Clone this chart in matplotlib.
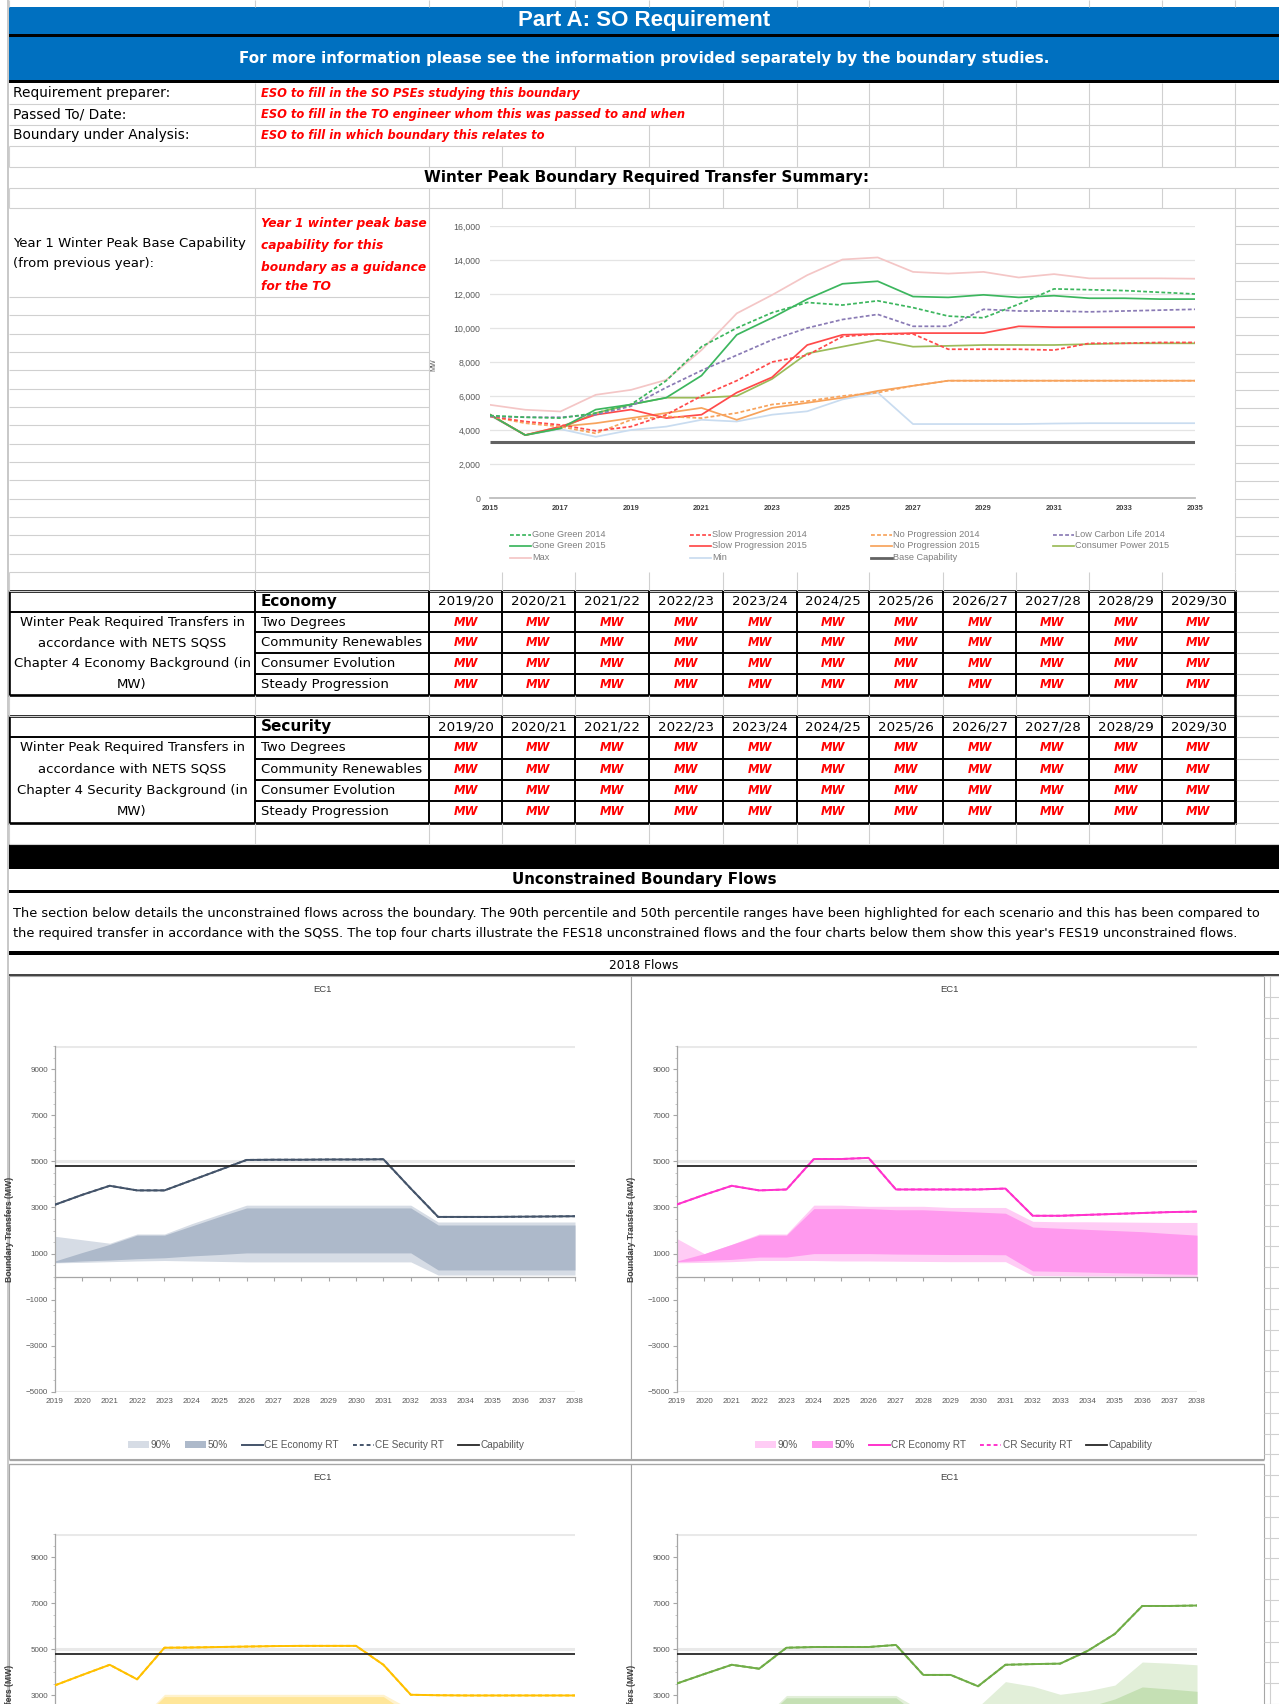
"""Boundary requirement sheet (Part A: SO Requirement) rebuilt as one matplotlib figure.

Spreadsheet cells are drawn on a full-figure pixel axes; the winter peak summary chart
and the four EC1 unconstrained-flow charts are real axes placed on top of it.

    python3 plot.py   ->  out.png
"""
import matplotlib
matplotlib.use("Agg")
import matplotlib.pyplot as plt
from matplotlib.lines import Line2D
from matplotlib.patches import Patch, Rectangle
from matplotlib.ticker import FixedLocator, MultipleLocator, FuncFormatter

W, H = 1279, 1704
plt.rcParams["font.family"] = ["Liberation Sans", "DejaVu Sans"]
SHEET_FONT = ["DejaVu Sans"]

BLUE, RED, GRID, INK, MUTED = "#0070c0", "#ff0000", "#d0d0d0", "#000000", "#595959"

# ---------------- winter peak boundary required transfer summary (MW) ----------------
WP_YEARS = list(range(2015, 2036))
gone_green_2014 = [4850, 4750, 4700, 5000, 5500, 6900, 8900, 10000, 10900, 11500, 11350,
                   11600, 11200, 10700, 10600, 11400, 12300, 12250, 12200, 12100, 12000]
slow_prog_2014 = [4800, 4500, 4300, 3950, 4200, 4900, 6000, 6900, 8000, 8400, 9500,
                  9650, 9650, 8750, 8750, 8750, 8700, 9100, 9100, 9150, 9150]
no_prog_2014 = [4800, 4400, 4200, 3800, 4600, 4800, 4700, 5000, 5500, 5700, 6000,
                6200, 6600, 6900, 6900, 6900, 6900, 6900, 6900, 6900, 6900]
low_carbon_2014 = [4800, 4750, 4750, 4900, 5400, 6500, 7500, 8400, 9300, 10000, 10500,
                   10800, 10100, 10100, 11100, 11000, 11000, 10950, 11000, 11050, 11100]
gone_green_2015 = [4900, 3700, 4100, 5200, 5500, 5900, 7200, 9600, 10600, 11700, 12600,
                   12750, 11850, 11800, 11950, 11800, 11900, 11750, 11750, 11700, 11700]
slow_prog_2015 = [4900, 3700, 4200, 4900, 5200, 4700, 4900, 6200, 7100, 9000, 9600,
                  9650, 9700, 9700, 9700, 10100, 10050, 10050, 10050, 10050, 10050]
no_prog_2015 = [4900, 3700, 4200, 4400, 4700, 5000, 5300, 4600, 5300, 5600, 5900,
                6300, 6600, 6900, 6900, 6900, 6900, 6900, 6900, 6900, 6900]
consumer_power_2015 = [4900, 3700, 4100, 5000, 5500, 5900, 5900, 6000, 7000, 8500, 8900,
                       9300, 8900, 8950, 9000, 9000, 9000, 9050, 9100, 9100, 9100]
max_req = [5480, 5190, 5090, 6070, 6360, 6950, 8700, 10860, 11940, 13110, 14030,
           14150, 13300, 13200, 13300, 12970, 13170, 12920, 12920, 12920, 12900]
min_req = [4850, 3700, 4050, 3600, 4000, 4200, 4600, 4500, 4900, 5100, 5800,
           6200, 4350, 4350, 4350, 4350, 4380, 4400, 4400, 4400, 4400]
BASE_CAPABILITY = 3300

# ---------------- required transfer tables ----------------
TABLE_YEARS = ["2019/20", "2020/21", "2021/22", "2022/23", "2023/24", "2024/25",
               "2025/26", "2026/27", "2027/28", "2028/29", "2029/30"]
SCENARIOS = ["Two Degrees", "Community Renewables", "Consumer Evolution", "Steady Progression"]
CELL = "MW"

# ---------------- EC1 unconstrained flows, 2018 FES (MW) ----------------
EC_YEARS = list(range(2019, 2039))
CAPABILITY = 4800
EC_YTICKS = [-5000, -3000, -1000, 1000, 3000, 5000, 7000, 9000]

ce_economy = [3120, 3550, 3940, 3740, 3740, 4180, 4620, 5060, 5070, 5070,
              5080, 5080, 5090, 3820, 2590, 2590, 2590, 2600, 2610, 2620]
ce_p90_lo = [600, 620, 650, 680, 700, 680, 660, 640, 640, 640, 640, 640, 640, 640, 70, 70, 70, 70, 70, 70]
ce_p90_hi = [1750, 1600, 1450, 1850, 1850, 2300, 2700, 3100, 3100, 3100,
             3100, 3100, 3100, 3100, 2370, 2370, 2370, 2370, 2370, 2370]
ce_p50_lo = [620, 680, 720, 780, 820, 900, 960, 1030, 1030, 1030,
             1030, 1030, 1030, 1030, 290, 290, 290, 290, 290, 290]
ce_p50_hi = [680, 1050, 1400, 1800, 1800, 2200, 2600, 2980, 2980, 2980,
             2980, 2980, 2980, 2980, 2240, 2240, 2240, 2240, 2240, 2240]

cr_economy = [3130, 3550, 3940, 3740, 3780, 5100, 5100, 5150, 3780, 3780,
              3780, 3780, 3820, 2640, 2640, 2680, 2720, 2760, 2800, 2820]
cr_p90_lo = [600, 620, 650, 700, 700, 700, 680, 680, 670, 660, 650, 650, 650, 50, 40, 30, 30, 20, 10, 0]
cr_p90_hi = [1650, 1000, 1400, 1850, 1850, 3100, 3100, 3050, 3050, 3050,
             3000, 3000, 3000, 2400, 2380, 2380, 2370, 2360, 2350, 2350]
cr_p50_lo = [650, 700, 750, 850, 850, 1000, 1000, 1000, 980, 970,
             960, 960, 950, 250, 230, 200, 170, 150, 120, 100]
cr_p50_hi = [680, 1000, 1400, 1800, 1800, 2950, 2950, 2950, 2900, 2900,
             2850, 2800, 2750, 2150, 2100, 2050, 2000, 1950, 1870, 1800]

sp_economy = [3440, 3890, 4330, 3700, 5070, 5080, 5100, 5120, 5140, 5150,
              5150, 5150, 4330, 3030, 3010, 3000, 3000, 3000, 3000, 3000]
sp_p90_lo = [600, 620, 650, 700, 700, 700, 700, 700, 700, 700, 700, 700, 700, 50, 40, 30, 20, 10, 0, 0]
sp_p90_hi = [1700, 1500, 1400, 1850, 3050, 3050, 3050, 3050, 3050, 3050,
             3050, 3050, 3050, 2400, 2400, 2400, 2400, 2400, 2400, 2400]
sp_p50_lo = [650, 700, 750, 850, 900, 950, 950, 950, 950, 950,
             950, 950, 950, 250, 230, 200, 170, 150, 120, 100]
sp_p50_hi = [680, 1050, 1400, 1800, 2950, 2950, 2950, 2950, 2950, 2950,
             2950, 2950, 2950, 2150, 2100, 2050, 2000, 1950, 1900, 1850]

td_economy = [3520, 3930, 4330, 4160, 5070, 5100, 5100, 5100, 5190, 3890,
              3890, 3400, 4330, 4360, 4380, 4930, 5670, 6880, 6880, 6900]
td_p90_lo = [600, 620, 650, 700, 700, 700, 700, 700, 700, 400, 400, 300, 300, 300, 300, 300, 300, 400, 400, 400]
td_p90_hi = [1700, 1500, 1400, 1850, 3000, 3000, 3000, 3000, 3000, 2300,
             2300, 2500, 3600, 3400, 3050, 3200, 3450, 4450, 4400, 4330]
td_p50_lo = [650, 700, 750, 850, 900, 950, 950, 950, 950, 700, 700, 600, 600, 600, 600, 600, 700, 800, 800, 800]
td_p50_hi = [680, 1050, 1400, 1800, 2900, 2900, 2900, 2900, 2900, 2000,
             2000, 2100, 2500, 2400, 2300, 2500, 2850, 3370, 3280, 3180]

# sheet column edges (px)
COLS = [9, 255, 429, 502, 575, 649, 723, 797, 869, 943, 1016, 1089, 1162, 1235]

fig = plt.figure(figsize=(W / 100, H / 100), dpi=100, facecolor="white")
bg = fig.add_axes([0, 0, 1, 1])
bg.set_xlim(0, W); bg.set_ylim(H, 0); bg.axis("off")


def px_axes(x0, y0, x1, y1):
    return fig.add_axes([x0 / W, 1 - y1 / H, (x1 - x0) / W, (y1 - y0) / H])


def hl(y, x0=9, x1=W, c=GRID, lw=0.8):
    bg.plot([x0, x1], [y, y], color=c, lw=lw, solid_capstyle="butt")


def vl(x, y0, y1, c=GRID, lw=0.8):
    bg.plot([x, x], [y0, y1], color=c, lw=lw, solid_capstyle="butt")


def rect(x0, y0, x1, y1, fc, ec="none", lw=0):
    bg.add_patch(Rectangle((x0, y0), x1 - x0, y1 - y0, fc=fc, ec=ec, lw=lw))


def txt(x, y, s, size=10, ha="left", family=SHEET_FONT, **kw):
    bg.text(x, y, s, fontsize=size, ha=ha, va="center", family=family, **kw)


def grid_row(y0, y1, cols=COLS):
    hl(y1)
    for x in cols:
        vl(x, y0, y1)


# ---------------- header ----------------
vl(8, 0, H, "#bfbfbf", 1.2)
for x in COLS:
    vl(x, 0, 7)
rect(9, 7, W, 34, BLUE)
rect(9, 34, W, 36.5, INK)
rect(9, 36.5, W, 80, BLUE)
rect(9, 80, W, 83, INK)
txt(644, 20.5, "Part A: SO Requirement", 16, "center", family=["Liberation Sans"],
    color="white", fontweight="bold")
txt(644, 58, "For more information please see the information provided separately by the boundary studies.",
    10.9, "center", color="white", fontweight="bold")

grid_row(83, 104, [255] + COLS[6:])
grid_row(104, 125, [255] + COLS[6:])
grid_row(125, 146, [255] + COLS[5:])
grid_row(146, 167)
grid_row(167, 188, [])
grid_row(188, 208)
info = [("Requirement preparer:", "ESO to fill in the SO PSEs studying this boundary"),
        ("Passed To/ Date:", "ESO to fill in the TO engineer whom this was passed to and when"),
        ("Boundary under Analysis:", "ESO to fill in which boundary this relates to")]
for i, (lab, val) in enumerate(info):
    yc = 93.5 + 21 * i
    txt(13, yc, lab, 9.9)
    txt(261, yc, val, 8.3, color=RED, fontweight="bold", style="italic")
txt(647, 177.5, "Winter Peak Boundary Required Transfer Summary:", 11, "center", fontweight="bold")

# year 1 block and rows beside the summary chart
vl(255, 208, 572); vl(429, 208, 572); vl(1235, 208, 572)
hl(297, 9, 429)
for k in range(1, 16):
    hl(297 + k * 18.33, 9, 429)
for k in range(1, 20):
    hl(208 + k * 18.2, 1235, W)
txt(13, 243, "Year 1 Winter Peak Base Capability", 9.5)
txt(13, 263, "(from previous year):", 9.5)
for yc, s in zip((224, 246, 267, 287),
                 ("Year 1 winter peak base", "capability for this", "boundary as a guidance", "for the TO")):
    txt(261, yc, s, 8.8, color=RED, fontweight="bold", style="italic")
rect(430, 208, 1234.5, 572, "white")
grid_row(572, 591)

# ---------------- winter peak summary chart ----------------
ax = px_axes(490, 226, 1195, 498)
ax.set_xlim(2015, 2035); ax.set_ylim(0, 16000)
ax.patch.set_visible(False)
DASH = (0, (2.2, 1.3))
wp_series = [
    ("Max", max_req, "#f4c6c6", "-"),
    ("Min", min_req, "#c9dcf0", "-"),
    ("No Progression 2015", no_prog_2015, "#f7a35c", "-"),
    ("Consumer Power 2015", consumer_power_2015, "#9bbb59", "-"),
    ("Slow Progression 2015", slow_prog_2015, "#ff4a4a", "-"),
    ("Gone Green 2015", gone_green_2015, "#3cb65e", "-"),
    ("No Progression 2014", no_prog_2014, "#f7a35c", DASH),
    ("Slow Progression 2014", slow_prog_2014, "#ff4a4a", DASH),
    ("Low Carbon Life 2014", low_carbon_2014, "#8a7bb5", DASH),
    ("Gone Green 2014", gone_green_2014, "#3cb65e", DASH),
]
styles = {}
for name, vals, c, ls in wp_series:
    ax.plot(WP_YEARS, vals, color=c, ls=ls, lw=1.25, zorder=3)
    styles[name] = (c, ls, 1.25)
ax.hlines(BASE_CAPABILITY, WP_YEARS[0], WP_YEARS[-1], color="#626262", lw=2.2, zorder=2)
styles["Base Capability"] = ("#626262", "-", 2.0)
ax.yaxis.set_major_locator(MultipleLocator(2000))
ax.yaxis.set_major_formatter(FuncFormatter(lambda v, _: f"{int(v):,}"))
ax.set_xticks(WP_YEARS[::2])
ax.grid(axis="y", color="#e4e4e4", lw=0.9)
ax.set_axisbelow(True)
for sp in ("top", "right", "left"):
    ax.spines[sp].set_visible(False)
ax.spines["bottom"].set_color("#bdbdbd"); ax.spines["bottom"].set_linewidth(1.3)
ax.tick_params(axis="y", length=0, labelsize=6.3, colors=MUTED, pad=7)
ax.tick_params(axis="x", length=0, labelsize=5.4, colors="#404040", pad=5)
for lab in ax.get_xticklabels():
    lab.set_fontweight("bold")
ax.set_ylabel("MW", fontsize=5, color=MUTED)
ax.yaxis.set_label_coords(-0.074, 0.49)

legend_order = [["Gone Green 2014", "Slow Progression 2014", "No Progression 2014", "Low Carbon Life 2014"],
                ["Gone Green 2015", "Slow Progression 2015", "No Progression 2015", "Consumer Power 2015"],
                ["Max", "Min", "Base Capability"]]
for r, row in enumerate(legend_order):
    for c_i, name in enumerate(row):
        x, y = (510, 690, 871, 1053)[c_i], (534.7, 546, 557.7)[r]
        c, ls, lw = styles[name]
        bg.add_line(Line2D([x, x + 21], [y, y], color=c, ls=ls, lw=lw))
        txt(x + 22, y, name, 6.6, family=["Liberation Sans"], color="#7f7f7f")


# ---------------- required transfer tables ----------------
def req_table(top, heading, background, rh):
    ys = [top + i * rh for i in range(6)]
    for y in ys[1:5]:
        hl(y, 255, 1235, INK, 1.4)
    hl(ys[1], 9, 255, INK, 1.4)
    for x in COLS[1:13]:
        vl(x, top, ys[5], INK, 1.4)
    bg.add_patch(Rectangle((9, top), 1235 - 9, 5 * rh, fill=False, ec=INK, lw=1.9))
    for y in ys:
        hl(y, 1235, W)
    txt(261, ys[0] + rh / 2, heading, 11, fontweight="bold")
    for j, yr in enumerate(TABLE_YEARS):
        xc = (COLS[j + 2] + COLS[j + 3]) / 2
        txt(xc, ys[0] + rh / 2, yr, 9.6, "center")
        for i in range(4):
            txt(xc, ys[i + 1] + rh / 2, CELL, 8.4, "center", color=RED, fontweight="bold", style="italic")
    left = ["Winter Peak Required Transfers in", "accordance with NETS SQSS",
            f"Chapter 4 {background} Background (in", "MW)"]
    for i in range(4):
        txt(261, ys[i + 1] + rh / 2, SCENARIOS[i], 9.5)
        txt(132, ys[i + 1] + rh / 2, left[i], 9.5, "center")


req_table(591, "Economy", "Economy", 20.7)
grid_row(694.5, 716)
req_table(716, "Security", "Security", 21.3)
vl(1235, 591, 822.5, INK, 1.9)
grid_row(822.5, 844)

# ---------------- unconstrained boundary flows header ----------------
rect(9, 844, W, 869, INK)
txt(644, 879.5, "Unconstrained Boundary Flows", 10.9, "center", fontweight="bold")
rect(9, 889.5, W, 892.5, INK)
txt(13, 914, "The section below details the unconstrained flows across the boundary. The 90th percentile and "
    "50th percentile ranges have been highlighted for each scenario and this has been compared to", 9.25)
txt(13, 933, "the required transfer in accordance with the SQSS. The top four charts illustrate the FES18 "
    "unconstrained flows and the four charts below them show this year's FES19 unconstrained flows.", 9.25)
rect(9, 951, W, 954.5, INK)
txt(644, 965.5, "2018 Flows", 8.8, "center")
hl(975, 9, W, "#404040", 1.4)
for k in range(0, 36):
    hl(976 + k * 20.8, 1264, W)
vl(1270, 976, H)


# ---------------- EC1 charts ----------------
def ec1_chart(box, tag, economy, p90_lo, p90_hi, p50_lo, p50_hi, line_c, c90, c50):
    x0, y0, x1, y1 = box
    rect(x0, y0, x1, y1, "white", "#a6a6a6", 0.8)
    txt((x0 + x1) / 2 + 2, y0 + 14, "EC1", 6.8, "center", family=["Liberation Sans"], color="#404040")
    top, bottom = y0 + 70, y0 + 416
    ax = px_axes(x0 + 46, top, x0 + 566, bottom)
    ax.patch.set_visible(False)
    ax.set_xlim(EC_YEARS[0], EC_YEARS[-1]); ax.set_ylim(-5000, 10000)
    for yv in (-5000, 5000, 10000):
        ax.axhline(yv, color="#e9e9e9", lw=2.2, zorder=0)
    ax.fill_between(EC_YEARS, p90_lo, p90_hi, color=c90, lw=0, zorder=1)
    ax.fill_between(EC_YEARS, p50_lo, p50_hi, color=c50, lw=0, zorder=2)
    ax.plot(EC_YEARS, economy, color=line_c, lw=1.4, zorder=4)
    # security RT sits exactly on the economy RT in the picture
    ax.plot(EC_YEARS, economy, color=line_c, lw=1.4, ls=(0, (2, 1.5)), zorder=4)
    ax.hlines(CAPABILITY, EC_YEARS[0], EC_YEARS[-1], color="#262626", lw=1.3, zorder=5)
    # only label the ticks that fall on the page (the lower charts run off the sheet)
    v_min = 10000 - (H - top) / (bottom - top) * 15000
    ax.yaxis.set_major_locator(FixedLocator([t for t in EC_YTICKS if t >= v_min - 100]))
    ax.yaxis.set_minor_locator(MultipleLocator(500))
    ax.set_xticks(EC_YEARS)
    for sp in ("top", "right"):
        ax.spines[sp].set_visible(False)
    ax.spines["bottom"].set_position(("data", 0))
    for sp in ("bottom", "left"):
        ax.spines[sp].set_color("#a6a6a6"); ax.spines[sp].set_linewidth(0.9)
    ax.tick_params(axis="x", length=3, color="#a6a6a6", labelbottom=False)
    ax.tick_params(axis="y", which="major", length=3, color="#a6a6a6", labelsize=5.8, labelcolor=MUTED, pad=2)
    ax.tick_params(axis="y", which="minor", length=1.8, color="#bdbdbd")
    ax.set_ylabel("Boundary Transfers (MW)", fontsize=6.2, fontweight="bold", color="#404040")
    ax.yaxis.set_label_coords(-0.078, 0.47)
    if y0 + 480 > H:
        return
    sec = ax.secondary_xaxis("bottom")
    sec.set_xticks(EC_YEARS)
    sec.spines["bottom"].set_visible(False)
    sec.tick_params(length=0, labelsize=5.8, labelcolor=MUTED, pad=4)
    handles = [Patch(fc=c90, ec="none"), Patch(fc=c50, ec="none"),
               Line2D([], [], color=line_c, lw=1.4), Line2D([], [], color=line_c, lw=1.4, ls=(0, (2, 1.5))),
               Line2D([], [], color="#262626", lw=1.3)]
    labels = ["90%", "50%", f"{tag} Economy RT", f"{tag} Security RT", "Capability"]
    ax.legend(handles, labels, ncol=5, frameon=False, fontsize=7.2, loc="center",
              bbox_to_anchor=((x0 + x1) / 2 / W + 0.005, 1 - (y0 + 469) / H), bbox_transform=fig.transFigure,
              handlelength=2.1, handleheight=0.7, columnspacing=1.4, handletextpad=0.15, labelcolor=MUTED)


ec1_chart((9, 976, 631, 1459), "CE", ce_economy, ce_p90_lo, ce_p90_hi, ce_p50_lo, ce_p50_hi,
          "#44546a", "#d6dce5", "#adb9ca")
ec1_chart((631, 976, 1264, 1459), "CR", cr_economy, cr_p90_lo, cr_p90_hi, cr_p50_lo, cr_p50_hi,
          "#ff33cc", "#ffccf5", "#ff99ee")
ec1_chart((9, 1464, 631, 1947), "SP", sp_economy, sp_p90_lo, sp_p90_hi, sp_p50_lo, sp_p50_hi,
          "#ffc000", "#fff2cc", "#ffe699")
ec1_chart((631, 1464, 1264, 1947), "TD", td_economy, td_p90_lo, td_p90_hi, td_p50_lo, td_p50_hi,
          "#70ad47", "#e2efd9", "#c5e0b4")
hl(1460, 9, 1264, "#a6a6a6", 0.9)
hl(1464, 9, 1264, "#a6a6a6", 0.9)

fig.savefig("out.png", dpi=100, facecolor="white")
